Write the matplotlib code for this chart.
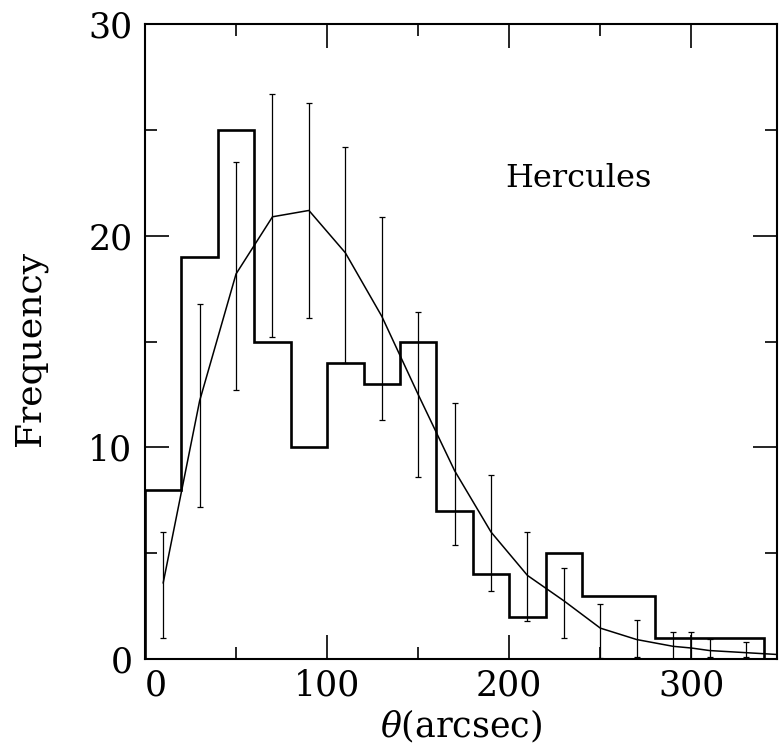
import matplotlib
matplotlib.use("Agg")
import matplotlib.pyplot as plt
import numpy as np

plt.rcParams['font.family'] = ['DejaVu Serif']
plt.rcParams['mathtext.fontset'] = 'dejavuserif'

# histogram of separations (bin edges in arcsec, counts)
bin_edges = [0, 20, 40, 60, 80, 100, 120, 140, 160, 180, 200, 220, 240, 280, 340]
counts = [8, 19, 25, 15, 10, 14, 13, 15, 7, 4, 2, 5, 3, 1]

# model curve
model_x = [10, 30, 50, 70, 90, 110, 130, 150, 170, 190, 210, 230, 250, 270,
           290, 300, 310, 330, 350]
model_y = [3.6, 12.2, 18.2, 20.9, 21.2, 19.2, 16.2, 12.5, 8.9, 6.0, 3.95, 2.75,
           1.46, 0.92, 0.6, 0.52, 0.4, 0.3, 0.2]

# error bars on the model (lower / upper ends)
err_x = [10, 30, 50, 70, 90, 110, 130, 150, 170, 190, 210, 230, 250, 270,
         290, 300, 310, 330]
err_lo = [1.0, 7.2, 12.7, 15.2, 16.1, 14.0, 11.3, 8.6, 5.4, 3.2, 1.8, 1.0,
          0.05, 0.1, 0.0, 0.0, 0.1, 0.1]
err_hi = [6.0, 16.8, 23.5, 26.7, 26.3, 24.2, 20.9, 16.4, 12.1, 8.7, 6.0, 4.3,
          2.6, 1.84, 1.3, 1.28, 0.96, 0.8]

fig = plt.figure(figsize=(7.82, 7.53), dpi=100)
ax = fig.add_axes([0.1854, 0.1248, 0.8082, 0.843])

ax.stairs(counts, bin_edges, baseline=0, color='k', linewidth=1.9)
ax.plot(model_x, model_y, color='k', linewidth=1.1)

mid = (np.array(err_lo) + np.array(err_hi)) / 2.0
yerr = [mid - np.array(err_lo), np.array(err_hi) - mid]
ax.errorbar(err_x, mid, yerr=yerr, fmt='none', ecolor='k',
            elinewidth=0.9, capsize=2, capthick=0.9)

ax.set_xlim(0, 347)
ax.set_ylim(0, 30)

ax.set_xticks([0, 100, 200, 300])
ax.set_xticks([50, 150, 250], minor=True)
ax.set_yticks([0, 10, 20, 30])
ax.set_yticks([5, 15, 25], minor=True)
ax.tick_params(which='both', direction='in', top=True, right=True, width=1.2)
ax.tick_params(which='major', length=17, labelsize=25)
ax.tick_params(which='minor', length=8.5)
ax.tick_params(axis='x', which='major', pad=7)
ax.tick_params(axis='y', which='major', pad=9)
ax.get_xticklabels()[0].set_horizontalalignment('left')

for s in ax.spines.values():
    s.set_linewidth(1.5)

ax.set_xlabel(r'$\theta$(arcsec)', fontsize=25, labelpad=4)
ax.set_ylabel('Frequency', fontsize=26)
ax.yaxis.set_label_coords(-0.155, 0.49)

ax.text(198, 22.7, 'Hercules', fontsize=23, ha='left', va='center')

fig.savefig('out.png', dpi=100)
